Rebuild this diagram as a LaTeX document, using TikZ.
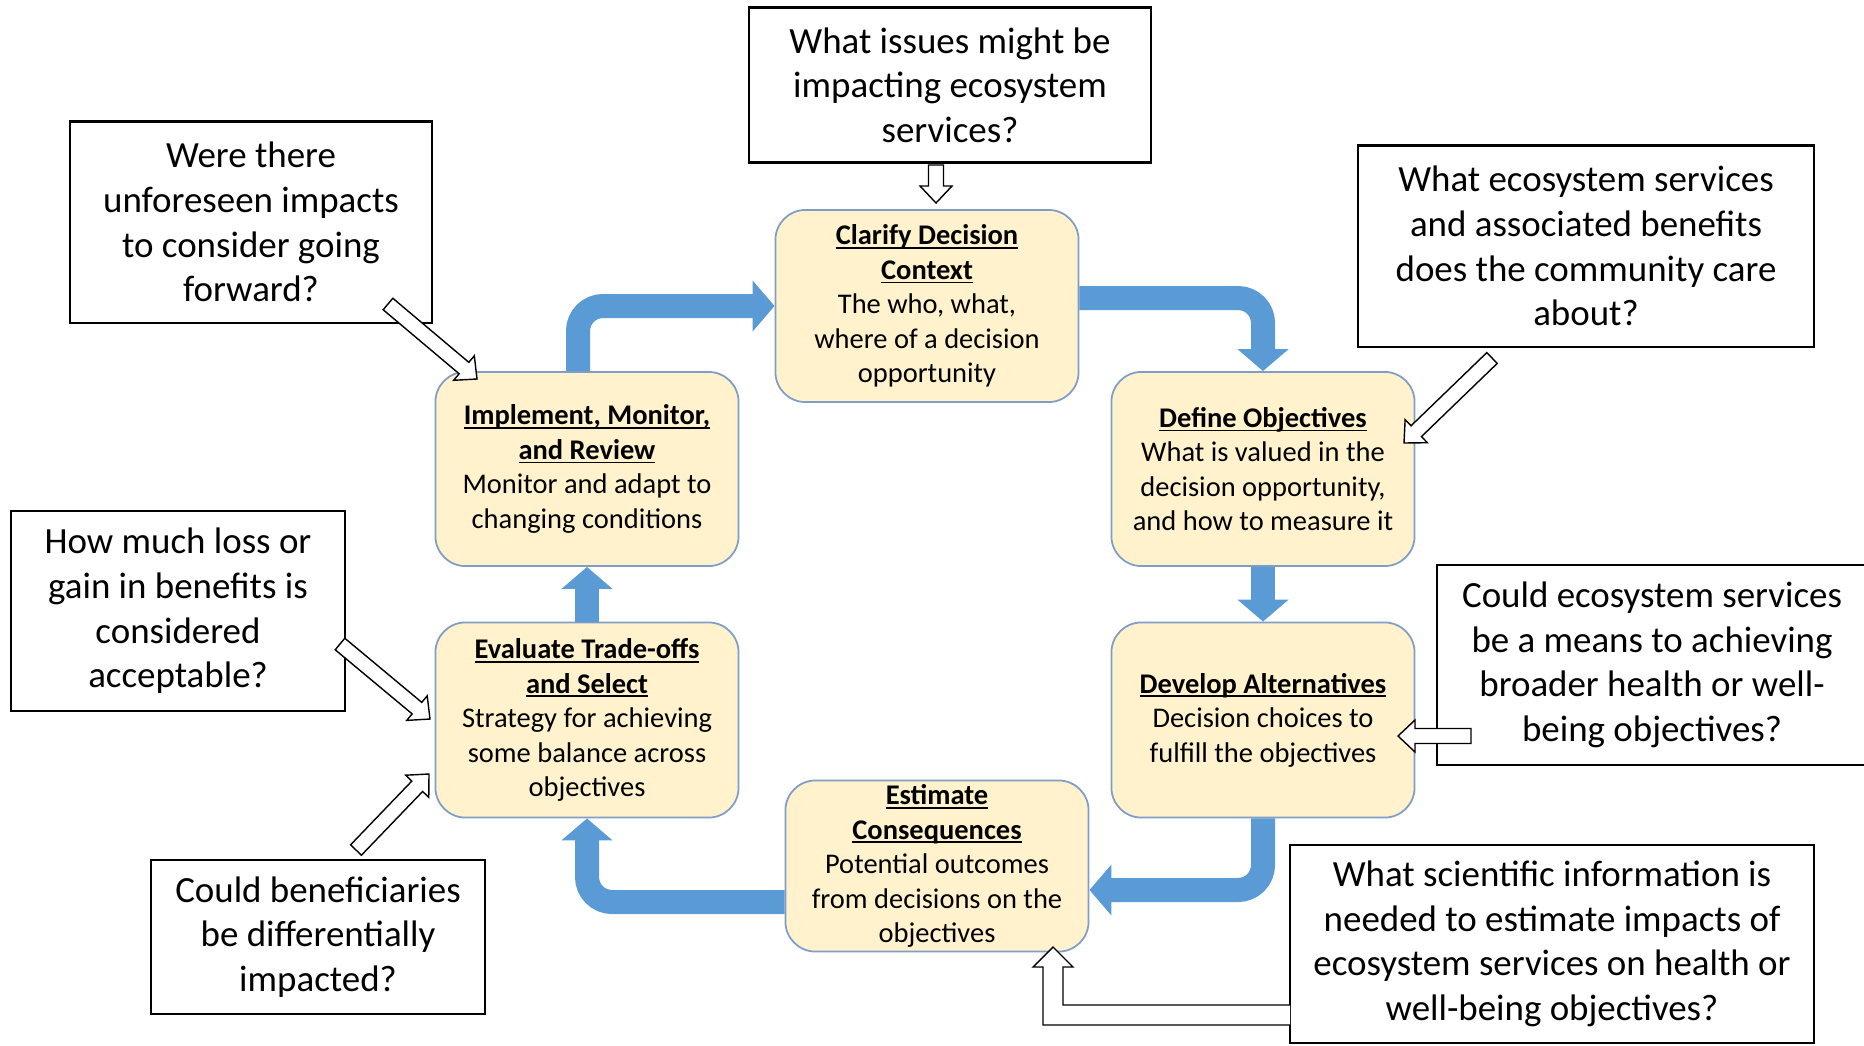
\documentclass[tikz,border=0pt]{standalone}
\usepackage{fontspec}
\setmainfont{Carlito}
\usepackage{tikz}
\usetikzlibrary{arrows.meta,calc}
\definecolor{CycleBlue}{HTML}{5B9BD5}
\definecolor{StepFill}{HTML}{FFF2CC}
\definecolor{StepEdge}{HTML}{7F9DC6}
\newsavebox{\titlebox}
\newcommand{\steptitle}[1]{\sbox{\titlebox}{\textbf{#1}}\rlap{\rule[-1.1pt]{\wd\titlebox}{0.45pt}}\usebox{\titlebox}}

\begin{document}
\begin{tikzpicture}[x=0.01cm, y=-0.01cm,
  stepbox/.style={fill=StepFill, draw=StepEdge, line width=0.5pt, rounded corners=0.3cm,
                  inner sep=0pt, minimum width=3.03cm, align=center,
                  font=\fontsize{8.1}{9.8}\selectfont},
  askbox/.style={fill=white, draw=black, line width=0.6pt, inner sep=0pt, align=center,
                 font=\fontsize{10.5}{12.7}\selectfont},
  loopflow/.style={draw=CycleBlue, line width=0.24cm, rounded corners=0.25cm,
                   -{Triangle[length=0.22cm, width=0.5cm]}},
  hollow/.style={draw=black, fill=white, line width=0.4pt, line join=miter}]
  \useasboundingbox (0,0) rectangle (1864,1045);

  % decision steps
  \foreach \nm/\x/\y/\h/\txt in {%
      clar/927/306/1.92cm/{\steptitle{Clarify Decision}\\ \steptitle{Context}\\ The who, what,\\ where of a decision\\ opportunity},
      impl/587/469/1.94cm/{\steptitle{Implement, Monitor,}\\ \steptitle{and Review}\\ Monitor and adapt to\\ changing conditions},
      def/1263/469/1.94cm/{\steptitle{Define Objectives}\\ What is valued in the\\ decision opportunity,\\ and how to measure it},
      eval/587/720/1.95cm/{\steptitle{Evaluate Trade-offs}\\ \steptitle{and Select}\\ Strategy for achieving\\ some balance across\\ objectives},
      dev/1263/720/1.95cm/{\steptitle{Develop Alternatives}\\ Decision choices to\\ fulfill the objectives},
      est/937/866/1.71cm/{\steptitle{Estimate}\\ \steptitle{Consequences}\\ Potential outcomes\\ from decisions on the\\ objectives}}{
    \node[stepbox, minimum height=\h] (\nm) at (\x,\y) {\txt};
  }

  % questions
  \foreach \nm/\x/\y/\w/\h/\txt in {%
      qtop/950/85/4.02cm/1.55cm/{What issues might be\\ impacting ecosystem\\ services?},
      qul/251/222/3.62cm/2.01cm/{Were there\\ unforeseen impacts\\ to consider going\\ forward?},
      qur/1586/246/4.55cm/2.01cm/{What ecosystem services\\ and associated benefits\\ does the community care\\ about?},
      qml/178/611/3.33cm/2.0cm/{How much loss or\\ gain in benefits is\\ considered\\ acceptable?},
      qmr/1652/665/4.3cm/2.0cm/{Could ecosystem services\\ be a means to achieving\\ broader health or well-\\ being objectives?},
      qbl/318/937/3.33cm/1.54cm/{Could beneficiaries\\ be differentially\\ impacted?},
      qbr/1552/944/5.24cm/1.98cm/{What scientific information is\\ needed to estimate impacts of\\ ecosystem services on health or\\ well-being objectives?}}{
    \node[askbox, minimum width=\w, minimum height=\h] (\nm) at (\x,\y) {\txt};
  }

  % the cycle
  \draw[loopflow] ($(impl.north)+(-9,0)$) |- (clar.west);
  \draw[loopflow] ($(clar.east)+(0,-8)$) -| (def.north);
  \draw[loopflow] (def.south) -- (dev.north);
  \draw[loopflow] (dev.south) |- ($(est.east)+(0,24)$);
  \draw[loopflow] ($(est.west)+(0,36)$) -| (eval.south);
  \draw[loopflow] (eval.north) -- (impl.south);

  % question pointers
  \coordinate (qa1) at (936,165);  \coordinate (qb1) at (936,203);
  \coordinate (qa2) at (388,304);  \coordinate (qb2) at (477,379);
  \coordinate (qa3) at (1492,358); \coordinate (qb3) at (1404,443);
  \coordinate (qa4) at (340,644);  \coordinate (qb4) at (430,719);
  \coordinate (qa5) at (356,850);  \coordinate (qb5) at (429,774);
  \coordinate (qa6) at (1471,736); \coordinate (qb6) at (1398,736);
  \foreach \i in {1,...,6}{
    \coordinate (neck) at ($(qb\i)!0.17cm!(qa\i)$);
    \draw[hollow] ($(qa\i)!0.075cm!90:(qb\i)$) -- ($(neck)!0.075cm!90:(qb\i)$)
      -- ($(neck)!0.16cm!90:(qb\i)$) -- (qb\i) -- ($(neck)!0.16cm!-90:(qb\i)$)
      -- ($(neck)!0.075cm!-90:(qb\i)$) -- ($(qa\i)!0.075cm!-90:(qb\i)$) -- cycle;
  }
  \coordinate (tl) at (1290,1015);
  \coordinate (tp) at (1053,947);
  \draw[hollow] ($(tl)+(0,-10)$) -| ($(tp)+(10,20)$) -- ($(tp)+(20,20)$) -- (tp)
    -- ($(tp)+(-20,20)$) -- ($(tp)+(-10,20)$) |- ($(tl)+(0,10)$);
\end{tikzpicture}
\end{document}
